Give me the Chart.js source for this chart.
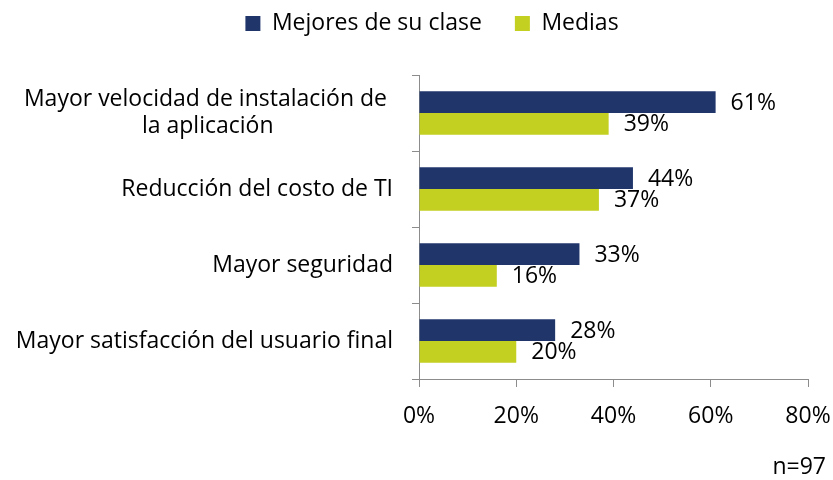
<!DOCTYPE html>
<html>
<head>
<meta charset="utf-8">
<script src="https://cdn.jsdelivr.net/npm/chart.js@4.4.1/dist/chart.umd.min.js"></script>
<style>
  html, body { margin: 0; padding: 0; background: #fff; }
  #wrap { width: 833px; height: 480px; position: relative; }
</style>
</head>
<body>
<div id="wrap"><canvas id="chart"></canvas></div>
<script>
// --- DATA ---
const categories = [
  ['Mayor velocidad de instalación de' + '\u00A0', 'la aplicación' + '\u00A0'.repeat(20)],
  'Reducción del costo de TI',
  'Mayor seguridad',
  'Mayor satisfacción del usuario final'
];
const seriesNames = ['Mejores de su clase', 'Medias'];
const bestValues = [61, 44, 33, 28];
const avgValues = [39, 37, 16, 20];
const xTicks = [0, 20, 40, 60, 80];
const sampleNote = 'n=97';

const FONT = "'Open Sans', sans-serif";
const FONT_SIZE = 23;
const NAVY = '#20366B';
const LIME = '#C3CF21';
const AXIS_GRAY = '#8C8C8C';

Chart.defaults.font.family = FONT;
Chart.defaults.font.size = FONT_SIZE;
Chart.defaults.color = '#000';

// legend: fixed height so the plot starts lower, drawn a bit higher and to the right
const legendGap = {
  id: 'legendGap',
  beforeInit(chart) {
    const fit = chart.legend.fit;
    chart.legend.fit = function () {
      fit.call(this);
      this.height = 73;
    };
    const draw = chart.legend.draw;
    chart.legend.draw = function () {
      const t = this.top, l = this.left, r = this.right;
      this.top = t - 23;
      this.left = l + 28;
      this.right = r + 28;
      draw.call(this);
      this.top = t; this.left = l; this.right = r;
    };
  }
};

// value labels to the right of each bar
const barLabels = {
  id: 'barLabels',
  afterDatasetsDraw(chart) {
    const ctx = chart.ctx;
    ctx.save();
    ctx.font = FONT_SIZE + 'px ' + FONT;
    ctx.fillStyle = '#000';
    ctx.textAlign = 'left';
    ctx.textBaseline = 'middle';
    chart.data.datasets.forEach((ds, i) => {
      const meta = chart.getDatasetMeta(i);
      meta.data.forEach((bar, j) => {
        ctx.fillText(ds.data[j] + '%', bar.x + 15, bar.y + 1);
      });
    });
    ctx.restore();
  }
};

// sample size note, bottom right
const noteText = {
  id: 'noteText',
  afterDraw(chart) {
    const ctx = chart.ctx;
    ctx.save();
    ctx.font = FONT_SIZE + 'px ' + FONT;
    ctx.fillStyle = '#000';
    ctx.textAlign = 'right';
    ctx.textBaseline = 'middle';
    ctx.fillText(sampleNote, 826, 467);
    ctx.restore();
  }
};

new Chart(document.getElementById('chart'), {
  type: 'bar',
  data: {
    labels: categories,
    datasets: [
      { label: seriesNames[0], data: bestValues, backgroundColor: NAVY, categoryPercentage: 0.57, barPercentage: 1.0 },
      { label: seriesNames[1], data: avgValues, backgroundColor: LIME, categoryPercentage: 0.57, barPercentage: 1.0 }
    ]
  },
  options: {
    indexAxis: 'y',
    responsive: true,
    maintainAspectRatio: false,
    animation: false,
    layout: { padding: { top: 2, right: 25, bottom: 0, left: 0 } },
    plugins: {
      legend: {
        position: 'top',
        labels: { boxWidth: 15, boxHeight: 15, padding: 33, color: '#000' }
      },
      tooltip: { enabled: false }
    },
    scales: {
      x: {
        min: xTicks[0],
        max: xTicks[xTicks.length - 1],
        afterBuildTicks(scale) {
          scale.ticks = xTicks.map(v => ({ value: v }));
        },
        afterFit(scale) {
          scale.height = 101;
          scale.paddingLeft = 0;
          scale.paddingRight = 0;
        },
        ticks: { callback: v => v + '%', padding: 16, maxRotation: 0 },
        grid: { drawOnChartArea: false, drawTicks: true, tickLength: 8, color: AXIS_GRAY },
        border: { color: AXIS_GRAY, width: 1 }
      },
      y: {
        afterFit(scale) { scale.width = 419; },
        ticks: { padding: 19 },
        grid: { drawOnChartArea: false, drawTicks: true, tickLength: 7, color: AXIS_GRAY, offset: true },
        border: { color: AXIS_GRAY, width: 1 }
      }
    }
  },
  plugins: [legendGap, barLabels, noteText]
});
</script>
</body>
</html>
